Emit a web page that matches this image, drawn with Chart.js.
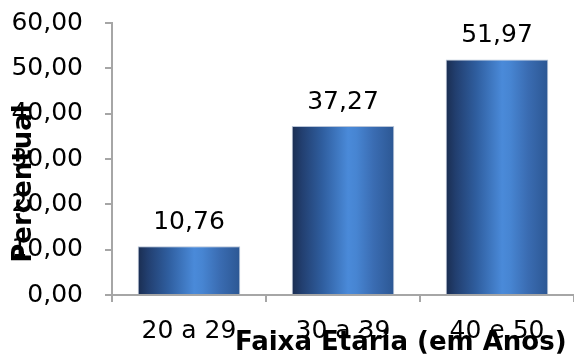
<!DOCTYPE html>
<html>
<head>
<meta charset="utf-8">
<script src="https://cdn.jsdelivr.net/npm/chart.js@4/dist/chart.umd.min.js"></script>
<style>
  html, body { margin: 0; padding: 0; background: #ffffff; }
  #wrap { width: 574px; height: 354px; }
</style>
</head>
<body>
<div id="wrap"><canvas id="c" width="574" height="354"></canvas></div>
<script>
// Age groups and their share (%)
const categories = ['20 a 29', '30 a 39', '40 e 50'];
const percentuais = [10.76, 37.27, 51.97];
const yTicks = [0, 10, 20, 30, 40, 50, 60];
const xTitle = 'Faixa Etária (em Anos)';
const yTitle = 'Percentual';

const FONT = 'DejaVu Sans';
const fmt = v => v.toFixed(2).replace('.', ',');

// Cylinder-style horizontal shading across each bar
function barGradient(ctx) {
  const chart = ctx.chart;
  const xs = chart.scales.x;
  if (!xs || !chart.chartArea) return '#3a6fb8';
  const ds = chart.data.datasets[ctx.datasetIndex];
  const cw = xs.width / chart.data.labels.length;
  const half = cw * ds.barPercentage * ds.categoryPercentage / 2;
  const cx = xs.getPixelForValue(ctx.dataIndex);
  const g = chart.ctx.createLinearGradient(cx - half, 0, cx + half, 0);
  g.addColorStop(0.00, '#1a2d50');
  g.addColorStop(0.10, '#223f70');
  g.addColorStop(0.30, '#2f5e9f');
  g.addColorStop(0.55, '#4a8ad9');
  g.addColorStop(0.63, '#4785d2');
  g.addColorStop(0.80, '#3a6cb2');
  g.addColorStop(1.00, '#2c5793');
  return g;
}

// Value labels above the bars
const valueLabels = {
  id: 'valueLabels',
  afterDatasetsDraw(chart) {
    const c = chart.ctx;
    const meta = chart.getDatasetMeta(0);
    c.save();
    c.font = '25px "' + FONT + '"';
    c.fillStyle = '#000000';
    c.textAlign = 'center';
    c.textBaseline = 'alphabetic';
    meta.data.forEach((el, i) => {
      c.fillText(fmt(chart.data.datasets[0].data[i]), el.x, el.y - 17);
    });
    c.restore();
  }
};

// Axis titles, laid over the tick labels
const axisTitles = {
  id: 'axisTitles',
  afterDraw(chart) {
    const c = chart.ctx;
    const a = chart.chartArea;
    c.save();
    c.font = 'bold 26px "' + FONT + '"';
    c.fillStyle = '#000000';
    c.textAlign = 'center';
    c.textBaseline = 'alphabetic';
    c.fillText(xTitle, a.left + (a.right - a.left) * 0.625, chart.height - 4);
    c.translate(31, a.top + (a.bottom - a.top) * 0.59);
    c.rotate(-Math.PI / 2);
    c.fillText(yTitle, 0, 0);
    c.restore();
  }
};

new Chart(document.getElementById('c'), {
  type: 'bar',
  data: {
    labels: categories,
    datasets: [{
      data: percentuais,
      backgroundColor: barGradient,
      borderColor: '#b9c5d8',
      borderWidth: 1,
      barPercentage: 0.666,
      categoryPercentage: 1.0
    }]
  },
  options: {
    responsive: false,
    animation: false,
    devicePixelRatio: 1,
    layout: { padding: { top: 23, right: -2, bottom: 0, left: 0 } },
    plugins: {
      legend: { display: false },
      tooltip: { enabled: false }
    },
    scales: {
      x: {
        offset: true,
        afterFit: s => { s.height = 59; },
        border: { color: '#a6a6a6', width: 2 },
        grid: { drawOnChartArea: false, drawTicks: true, tickLength: 7, color: '#a6a6a6', lineWidth: 2 },
        ticks: { color: '#000000', padding: 14, font: { family: FONT, size: 25 }, maxRotation: 0 }
      },
      y: {
        min: 0,
        max: 60,
        afterFit: s => { s.width = 112; s.paddingTop = 0; s.paddingBottom = 0; },
        afterBuildTicks: s => { s.ticks = yTicks.map(v => ({ value: v })); },
        border: { color: '#a6a6a6', width: 2 },
        grid: { drawOnChartArea: false, drawTicks: true, tickLength: 7, color: '#a6a6a6', lineWidth: 2 },
        ticks: { color: '#000000', padding: 22, font: { family: FONT, size: 25 }, callback: v => fmt(v) }
      }
    }
  },
  plugins: [valueLabels, axisTitles]
});
</script>
</body>
</html>
